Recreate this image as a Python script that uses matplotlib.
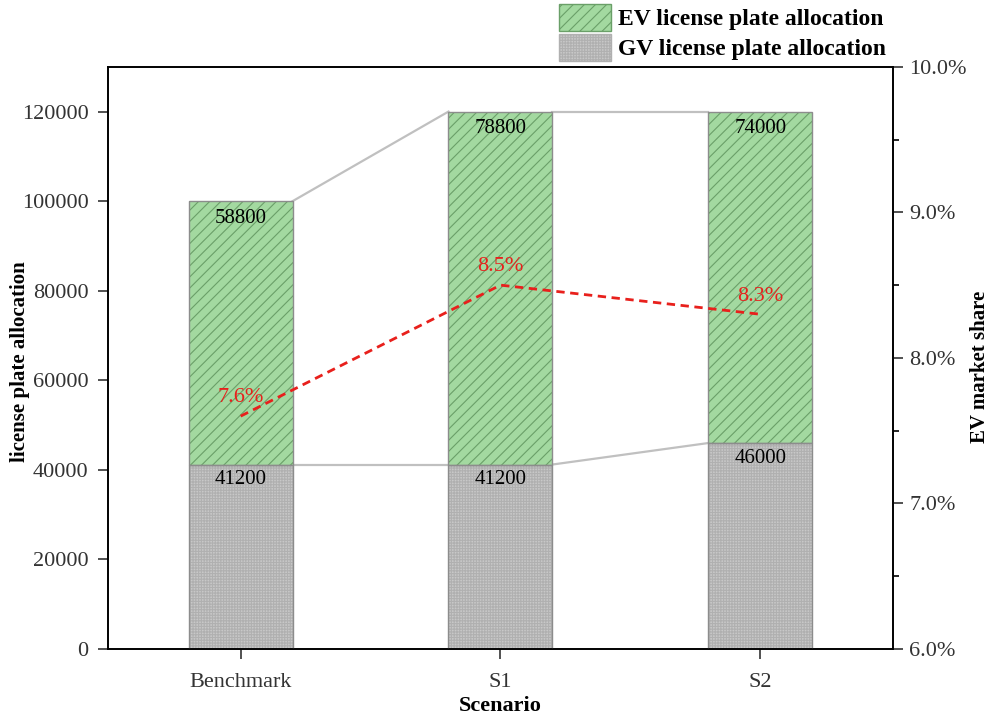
import matplotlib.pyplot as plt
import matplotlib.ticker as mticker
from matplotlib.patches import Patch

scenarios = ["Benchmark", "S1", "S2"]
gv_plates = [41200, 41200, 46000]
ev_plates = [58800, 78800, 74000]
ev_share = [7.6, 8.5, 8.3]

plt.rcParams['font.family'] = ['Liberation Serif', 'DejaVu Serif']
plt.rcParams['hatch.linewidth'] = 0.8

fig = plt.figure(figsize=(9.92, 7.18), dpi=100)
ax = fig.add_axes([0.109, 0.096, 0.791, 0.811])

x = list(range(len(scenarios)))
w = 0.4
green = "#a3d9a0"
gray = "#c8c8c8"

# gv bars (bottom) then ev bars stacked on top
ax.bar(x, gv_plates, w, color=gray, hatch="++++++", edgecolor="#b0b0b0", linewidth=0, zorder=2)
ax.bar(x, gv_plates, w, fill=False, edgecolor="#8c8c8c", linewidth=1.0, zorder=3)
ax.bar(x, ev_plates, w, bottom=gv_plates, color=green, hatch="///", edgecolor="#6a9f68", linewidth=0, zorder=2)
ax.bar(x, ev_plates, w, bottom=gv_plates, fill=False, edgecolor="#8c8c8c", linewidth=1.0, zorder=3)

# connector lines between bars
tops = [g + e for g, e in zip(gv_plates, ev_plates)]
for i in range(len(x) - 1):
    ax.plot([x[i] + w / 2, x[i + 1] - w / 2], [tops[i], tops[i + 1]], color="#c0c0c0", lw=1.6, zorder=1)
    ax.plot([x[i] + w / 2, x[i + 1] - w / 2], [gv_plates[i], gv_plates[i + 1]], color="#c0c0c0", lw=1.6, zorder=1)

for i in x:
    ax.text(i, tops[i] - 1700, str(ev_plates[i]), ha="center", va="top", fontsize=15, zorder=4)
    ax.text(i, gv_plates[i] - 1300, str(gv_plates[i]), ha="center", va="top", fontsize=15, zorder=4)

ax.set_ylim(0, 130000)
ax.set_xlim(-0.51, 2.51)
ax.set_yticks(range(0, 120001, 20000))
ax.set_xticks(x)
ax.set_xticklabels(scenarios)
ax.tick_params(axis="both", labelsize=16, length=7, width=1.2, direction="out", colors="#333333", pad=7)
ax.tick_params(axis="x", pad=10)
for s in ax.spines.values():
    s.set_linewidth(1.2)
ax.set_ylabel("license plate allocation", fontsize=15, fontweight="bold")
ax.yaxis.set_label_coords(-0.099, 0.493)
ax.set_xlabel("Scenario", fontsize=16, fontweight="bold", labelpad=3)

ax2 = ax.twinx()
ax2.plot(x, ev_share, color="#e8201c", lw=2, ls=(0, (3, 2)), zorder=5)
for i in x:
    ax2.text(i, ev_share[i] + 0.06, "%.1f%%" % ev_share[i], color="#e8201c", ha="center", va="bottom", fontsize=16)
ax2.set_ylim(6.0, 10.0)
ax2.set_yticks([6, 7, 8, 9, 10])
ax2.yaxis.set_minor_locator(mticker.MultipleLocator(0.5))
ax2.yaxis.set_major_formatter(mticker.FuncFormatter(lambda v, p: "%.1f%%" % v))
ax2.tick_params(axis="y", which="major", labelsize=16, length=7, width=1.2, colors="#333333", pad=5)
ax2.tick_params(axis="y", which="minor", length=4, width=1.2)
ax2.set_ylabel("EV market share", fontsize=15, fontweight="bold")
ax2.yaxis.set_label_coords(1.098, 0.485)
for s in ax2.spines.values():
    s.set_linewidth(1.2)

handles = [Patch(facecolor=green, hatch="///", edgecolor="#6a9f68", label="EV license plate allocation"),
           Patch(facecolor=gray, hatch="++++++", edgecolor="#b0b0b0", label="GV license plate allocation")]
fig.legend(handles=handles, loc="upper left", bbox_to_anchor=(0.561, 0.998), frameon=False,
           prop={"size": 17, "weight": "bold"}, handlelength=2.2, handleheight=1.4, labelspacing=0.12,
           handletextpad=0.3, borderaxespad=0, borderpad=0.1)

fig.savefig("out.png", dpi=100)
